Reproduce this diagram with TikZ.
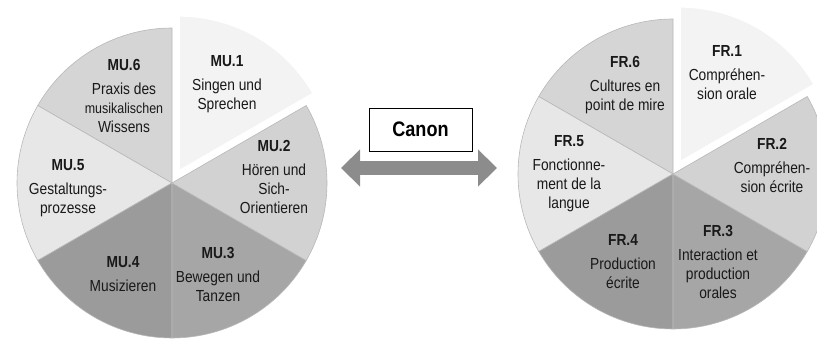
\documentclass[tikz,border=0pt]{standalone}
\usepackage{fontspec}
\setmainfont{Liberation Sans}
\newfontfamily\narrowsans[FakeStretch=0.86]{Liberation Sans}
\usepackage{tikz}
\usetikzlibrary{calc, arrows.meta, positioning}
\definecolor{g1}{HTML}{F3F3F3}
\definecolor{g2}{HTML}{D2D2D2}
\definecolor{g3}{HTML}{A6A6A6}
\definecolor{g4}{HTML}{9B9B9B}
\definecolor{g5}{HTML}{E7E7E7}
\definecolor{g6}{HTML}{D5D5D5}

\begin{document}
\begin{tikzpicture}[x=1pt,y=1pt]
	\tikzset{piece/.style={draw=black!28, line width=0.6pt},
		lbl/.style={align=center, text=black!90, font=\narrowsans\fontsize{16}{19}\selectfont}}
	\clip (0,0) rectangle (817,340);
	\coordinate (cmu) at (172,157);
	\coordinate (cfr) at (673,166);
	\foreach \c in {cmu,cfr}{
		\foreach \a/\col in {90/g6,150/g5,210/g4,270/g3,330/g2}
			\filldraw[fill=\col, piece] (\c) -- ++(\a:155pt) arc[start angle=\a, delta angle=60, radius=155pt] -- cycle;
		\filldraw[fill=g1, draw=white, line width=1.6pt] ($(\c)+(60:14pt)$) -- ++(30:155pt) arc[start angle=30, end angle=90, radius=155pt] -- cycle;
	}
	\node[lbl] (mu1) at (227,256) {\textbf{MU.1}\\[5pt]Singen und\\Sprechen};
	\node[lbl] (mu2) at (274,163) {\textbf{MU.2}\\[5pt]Hören und\\Sich-\\Orientieren};
	\node[lbl] (mu3) at (218,66) {\textbf{MU.3}\\[5pt]Bewegen und\\Tanzen};
	\node[lbl] (mu4) at (123,66) {\textbf{MU.4}\\[5pt]Musizieren};
	\node[lbl] (mu5) at (68,152) {\textbf{MU.5}\\[5pt]Gestaltungs-\\prozesse};
	\node[lbl] (mu6) at (124,244) {\textbf{MU.6}\\[5pt]Praxis des\\{\fontsize{14.5}{19}\selectfont musikalischen}\\Wissens};
	\node[lbl] (fr1) at (727,267) {\textbf{FR.1}\\[5pt]Compréhen-\\sion orale};
	\node[lbl] (fr2) at (772,175) {\textbf{FR.2}\\[5pt]Compréhen-\\sion écrite};
	\node[lbl] (fr3) at (718,78) {\textbf{FR.3}\\[5pt]Interaction et\\production\\orales};
	\node[lbl] (fr4) at (623,78) {\textbf{FR.4}\\[5pt]Production\\écrite};
	\node[lbl] (fr5) at (569,166) {\textbf{FR.5}\\[5pt]Fonctionne-\\ment de la\\langue};
	\node[lbl] (fr6) at (625,255) {\textbf{FR.6}\\[5pt]Cultures en\\point de mire};
	\node[draw, line width=0.8pt, fill=white, minimum width=103pt, minimum height=43pt,
		font=\narrowsans\fontsize{21}{24}\selectfont\bfseries] (canon) at (420.5,210.5) {Canon};
	\coordinate (arrl) at (341,172);
	\coordinate (arrr) at (497,172);
	\draw[line width=14pt, draw=black!45, {Triangle[length=19pt,width=36pt]}-{Triangle[length=19pt,width=36pt]}] (arrl) -- (arrr);
\end{tikzpicture}
\end{document}
